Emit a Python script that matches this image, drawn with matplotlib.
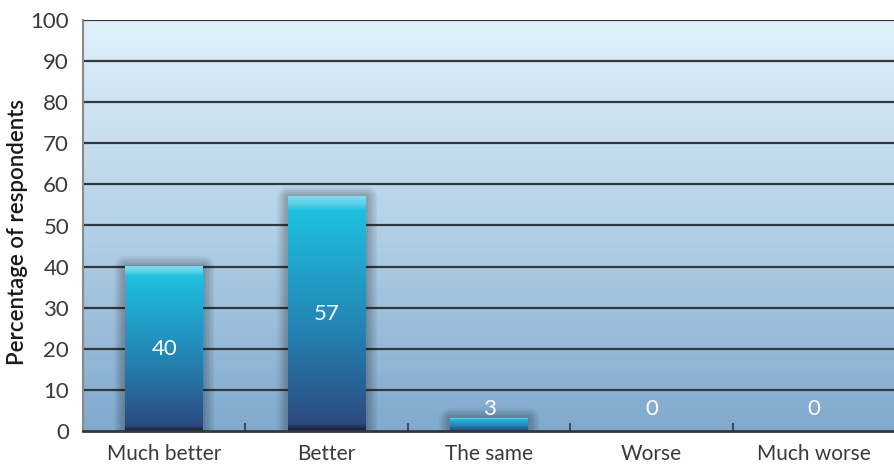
import matplotlib
matplotlib.use("Agg")
import matplotlib.pyplot as plt
import numpy as np
from matplotlib.colors import LinearSegmentedColormap
from matplotlib.patches import Rectangle

categories = ["Much better", "Better", "The same", "Worse", "Much worse"]
values = [40, 57, 3, 0, 0]
yticks = [0, 10, 20, 30, 40, 50, 60, 70, 80, 90, 100]

plt.rcParams['font.family'] = ['Lato', 'DejaVu Sans']
text_color = "#3a3a3a"

fig = plt.figure(figsize=(8.95, 4.65), dpi=100)
ax = fig.add_axes([83 / 895, 34 / 465, 812 / 895, 411 / 465])

# background gradient
bg_cmap = LinearSegmentedColormap.from_list("bg", ["#80a9cd", "#b4d1e7", "#e0f1fa"])
grad = np.linspace(0, 1, 256).reshape(-1, 1)
ax.imshow(grad, cmap=bg_cmap, origin="lower", aspect="auto",
          extent=[-0.5, 4.5, 0, 100], zorder=0)

# gridlines
for t in yticks[1:]:
    ax.axhline(t, color="#33383d", lw=1.6, zorder=1)

bar_cmap = LinearSegmentedColormap.from_list(
    "bar", [(0.0, "#141d33"), (0.03, "#2c4a80"), (0.45, "#2485b5"),
            (0.94, "#1ec0e0"), (0.97, "#5cd3ea"), (1.0, "#7fdcee")])
width = 0.48
x = np.arange(len(categories))
for xi, v in zip(x, values):
    if v > 0:
        # soft shadow
        for lw in range(2, 18, 2):
            ax.add_patch(Rectangle((xi - width / 2, 0), width, v, facecolor="none",
                                   edgecolor="black", lw=lw, alpha=0.035,
                                   joinstyle="round", zorder=2))
        ax.imshow(grad, cmap=bar_cmap, origin="lower", aspect="auto",
                  extent=[xi - width / 2, xi + width / 2, 0, v], zorder=3)
    ax.text(xi, max(v / 2, 5.4), str(v), color="white", fontsize=16,
            ha="center", va="center", zorder=4)

ax.set_xlim(-0.5, 4.5)
ax.set_ylim(0, 100)
ax.set_yticks(yticks)
ax.set_yticklabels([str(t) for t in yticks], fontsize=16, color=text_color)
ax.set_xticks(x)
ax.set_xticklabels(categories, fontsize=15, color=text_color)
ax.set_xticks(x[:-1] + 0.5, minor=True)
ax.tick_params(axis="x", which="major", length=0, pad=9)
ax.tick_params(axis="x", which="minor", direction="in", length=6, width=1.2,
               color="#33383d")
ax.tick_params(axis="y", length=0, pad=10)

ax.spines["top"].set_visible(False)
ax.spines["right"].set_visible(False)
ax.spines["left"].set_color("#8a8a8a")
ax.spines["left"].set_linewidth(1.5)
ax.spines["bottom"].set_color("#33383d")
ax.spines["bottom"].set_linewidth(2)
ax.spines["bottom"].set_zorder(5)

ax.set_ylabel("Percentage of respondents", fontsize=16, color="#1a1a1a",
              fontweight="semibold")
ax.yaxis.set_label_coords(-0.068, 0.484)

fig.savefig("out.png", dpi=100)
